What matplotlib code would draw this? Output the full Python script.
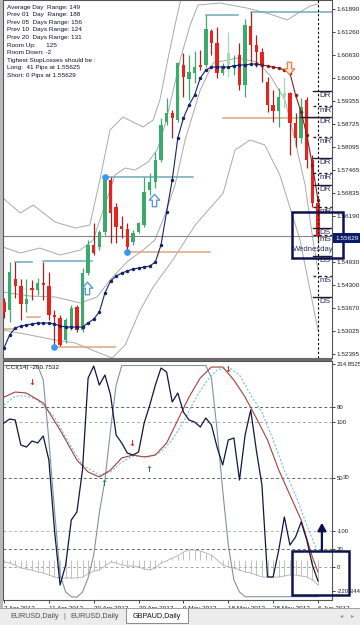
import numpy as np
import matplotlib.pyplot as plt
from matplotlib.path import Path
from matplotlib.patches import Rectangle

plt.rcParams['font.family'] = ['Liberation Sans', 'DejaVu Sans']

# ---- GBPAUD Daily, one bar per index, 2 Apr 2012 .. 6 Jun 2012 ----
opens = [1.53826, 1.53606, 1.54459, 1.54267, 1.53771, 1.54212, 1.54157, 1.54349, 1.54267, 1.53468,
         1.53386, 1.52781, 1.53138, 1.53688, 1.53056, 1.54624, 1.55395, 1.55340, 1.55753, 1.57184,
         1.56441, 1.55918, 1.55835, 1.55478, 1.55753, 1.55945, 1.56909, 1.57129, 1.57734, 1.58780,
         1.59028, 1.58835, 1.60349, 1.59963, 1.60128, 1.60349, 1.60349, 1.61284, 1.60954, 1.60128,
         1.60349, 1.60294, 1.60624, 1.59798, 1.61423, 1.60899, 1.60707, 1.59881, 1.59248, 1.59083,
         1.59468, 1.59578, 1.58752, 1.58340, 1.59386, 1.57734, 1.56551]
highs = [1.53937, 1.54927, 1.54927, 1.54459, 1.54459, 1.54432, 1.54487, 1.54927, 1.54652, 1.53606,
         1.53468, 1.53386, 1.53743, 1.53743, 1.54762, 1.55533, 1.56000, 1.55808, 1.57266, 1.57266,
         1.56551, 1.56193, 1.56000, 1.55808, 1.56028, 1.57266, 1.57376, 1.57955, 1.58891, 1.59441,
         1.59111, 1.60432, 1.60679, 1.60624, 1.60734, 1.60762, 1.61725, 1.61340, 1.61395, 1.60404,
         1.61257, 1.60624, 1.60954, 1.61615, 1.61808, 1.61174, 1.60817, 1.60018, 1.59661, 1.59716,
         1.60018, 1.59606, 1.59028, 1.59441, 1.59468, 1.57872, 1.56634]
lows = [1.53386, 1.53276, 1.53937, 1.53331, 1.53551, 1.53881, 1.54019, 1.53881, 1.53331, 1.52588,
        1.52615, 1.52698, 1.53056, 1.53001, 1.53001, 1.54569, 1.55119, 1.55257, 1.55670, 1.55450,
        1.55450, 1.55588, 1.55202, 1.55395, 1.55725, 1.55890, 1.56771, 1.56964, 1.57679, 1.58697,
        1.58340, 1.58780, 1.59468, 1.59386, 1.59853, 1.60211, 1.60294, 1.60624, 1.59991, 1.60073,
        1.60018, 1.60073, 1.59661, 1.59468, 1.60432, 1.60294, 1.59881, 1.59056, 1.58780, 1.58642,
        1.59166, 1.57872, 1.58092, 1.58202, 1.57514, 1.56441, 1.55450]
closes = [1.53551, 1.54652, 1.54267, 1.53771, 1.53909, 1.54157, 1.54349, 1.54294, 1.53468, 1.53413,
          1.52643, 1.53331, 1.53661, 1.53056, 1.54624, 1.55395, 1.55174, 1.55753, 1.57184, 1.56275,
          1.55890, 1.55835, 1.55340, 1.55725, 1.56000, 1.56854, 1.57129, 1.57734, 1.58697, 1.59028,
          1.58891, 1.60404, 1.60018, 1.60156, 1.60294, 1.60294, 1.61340, 1.60954, 1.60128, 1.60322,
          1.60679, 1.60349, 1.59798, 1.61450, 1.60899, 1.60707, 1.60349, 1.59248, 1.59083, 1.59468,
          1.59578, 1.58752, 1.58340, 1.59193, 1.57734, 1.56551, 1.55629]
faded_bars = [40, 50]

# dotted moving average
ma_line = [1.52561, 1.52918, 1.53111, 1.53166, 1.53193, 1.53221, 1.53248, 1.53248, 1.53248, 1.53221,
           1.53166, 1.53138, 1.53138, 1.53138, 1.53138, 1.53248, 1.53358, 1.53551, 1.54074, 1.54404,
           1.54542, 1.54624, 1.54679, 1.54734, 1.54762, 1.54789, 1.54817, 1.54927, 1.55395, 1.56303,
           1.57184, 1.58340, 1.58891, 1.59248, 1.59523, 1.59991, 1.60211, 1.60294, 1.60294, 1.60294,
           1.60294, 1.60322, 1.60349, 1.60349, 1.60377, 1.60377, 1.60349, 1.60322, 1.60294, 1.60266,
           1.60211, 1.60128, 1.59523, 1.59056, 1.58423, 1.57596, 1.56634]

# grey envelope bands (at a few bars)
band_a_x = [-0.2, 2.9, 5.2, 9.1, 12.7, 15.3, 17.1, 18.9, 21.2, 23.0, 24.8, 26.6, 27.8, 29.2, 30.5, 31.7]
band_a = [1.56689, 1.56276, 1.56496, 1.56028, 1.55863, 1.55945, 1.57184, 1.58560, 1.58918, 1.58780,
          1.58642, 1.58835, 1.59386, 1.60487, 1.61450, 1.62276]
band_b_x = [-0.2, 2.9, 6.4, 10.0, 13.6, 15.9, 18.0, 19.8, 21.6, 23.4, 25.7, 27.3, 28.7, 30.0, 31.4,
            33.2, 34.6, 38.5, 43.3, 47.4, 50.5, 52.8, 54.6, 56.0]
band_b = [1.55340, 1.55174, 1.55312, 1.55119, 1.55257, 1.55533, 1.56496, 1.57321, 1.57514, 1.57459,
          1.57679, 1.58010, 1.58697, 1.59523, 1.60487, 1.61450, 1.62000, 1.62055, 1.61918, 1.61753,
          1.61588, 1.61808, 1.61973, 1.62028]
band_c_x = [-0.2, 4.6, 9.1, 13.6, 16.6, 18.9, 21.9, 24.8, 26.9, 28.7, 30.5, 32.3, 35.0, 37.3, 41.6,
            45.1, 47.4, 50.1, 51.9, 53.7, 55.1, 56.0]
band_c = [1.54102, 1.53992, 1.53964, 1.53799, 1.53964, 1.54432, 1.54927, 1.55257, 1.55533, 1.56221,
          1.57046, 1.58285, 1.59661, 1.60404, 1.60542, 1.60432, 1.60074, 1.59386, 1.58285, 1.57046,
          1.55533, 1.54707]
band_d_x = [-0.2, 4.6, 9.1, 12.7, 16.6, 19.3, 21.6, 24.3, 26.6, 30.1, 34.1, 39.1, 41.2, 43.9, 46.5,
            49.2, 52.8, 56.0]
band_d = [1.53056, 1.52918, 1.52781, 1.52698, 1.52450, 1.52285, 1.52643, 1.53606, 1.54239, 1.54982,
          1.55945, 1.56826, 1.58010, 1.58285, 1.58148, 1.57321, 1.55533, 1.53056]

# weekly high / low lines: (first bar, last bar, price)
week_highs = [(2, 5, 1.54927), (7, 15.7, 1.54955), (18, 33.7, 1.57266), (36, 41.7, 1.61725), (44, 58.5, 1.61808)]
week_lows = [(-0.2, 2, 1.53083), (4.1, 6.4, 1.53413), (9, 19.8, 1.52588), (22, 36.7, 1.55202), (39, 56, 1.58891)]
swing_dots_x = [9, 18, 22]
swing_dots_y = [1.52588, 1.57266, 1.55202]
buy_arrows_x = [14.8, 26.8]
buy_arrows_y = [1.54212, 1.56634]
sell_arrow_x = [50.8]
sell_arrow_y = [1.60266]

# daily pivot levels drawn at the right edge
pivot_prices = [1.59633, 1.59221, 1.58918, 1.58368, 1.57789, 1.57376, 1.57046, 1.56441,
                1.55863, 1.55670, 1.55092, 1.54542, 1.53964]
pivot_names = ['DR', 'mR', 'DR', 'mR', 'DR', 'mR', 'DR', 'mR', 'DS', 'mS', 'DS', 'mS', 'DS']
pivot_start = [55.1, 55.1, 52.8, 55.1, 55.1, 55.1, 55.1, 55.1, 55.1, 55.1, 55.1, 55.1, 55.1]

last_price = 1.55629
price_ticks = [1.61890, 1.61260, 1.60630, 1.60000, 1.59355, 1.58725, 1.58095, 1.57465,
               1.56835, 1.56190, 1.54930, 1.54300, 1.53670, 1.53025, 1.52395]
price_labels = ['1.61890', '1.61260', '1.60630', '1.60000', '1.59355', '1.58725', '1.58095', '1.57465',
                '1.56835', '1.56190', '1.54930', '1.54300', '1.53670', '1.53025', '1.52395']

info_lines = ['Average Day  Range: 149', 'Prev 01  Day  Range: 188', 'Prev 05  Days Range: 156',
              'Prev 10  Days Range: 124', 'Prev 20  Days Range: 131', 'Room Up:      125',
              'Room Down: -2', 'Tighest StopLosses should be :', 'Long:  41 Pips at 1.55625',
              'Short: 0 Pips at 1.55629']

# ---- CCI sub window ----
cci = [101.8, 109.5, 107.6, 59.7, 55.8, 67.4, 63.5, 76.9, 31.0, -103.2, -208.5, -170.2, -84.0, -68.7,
       11.8, 188.0, 211.0, 174.6, 193.8, 155.5, 78.8, 63.5, 44.3, 40.5, 46.3, 101.8, 136.3, 174.6,
       207.2, 199.5, 142.1, 159.3, 122.9, 107.6, 103.7, 94.2, 111.4, 98.0, 55.8, 21.4, 69.3, 73.1,
       -7.4, 78.8, 126.7, 50.1, -16.9, -193.2, -193.2, -141.5, -78.2, -131.9, -116.6, -87.8, -122.3,
       -170.2, -200.75]
sig_x = [0, 2, 4, 7, 10, 13, 15, 17, 19, 21, 23, 25, 27, 29, 31, 33, 35, 37, 39, 41, 43, 45, 47, 49,
         51, 53, 55, 56]
sig_red = [151.6, 161.2, 159.3, 140.1, 88.4, 31.0, 8.0, -1.6, 11.8, 34.8, 40.5, 36.7, 40.5, 63.5,
           107.6, 151.6, 188.0, 209.1, 209.1, 184.2, 151.6, 111.4, 69.3, 11.8, -36.1, -84.0, -154.9, -183.6]
sig2_x = [0, 2, 4, 6, 9, 12, 14, 17, 19, 21, 23, 26, 28, 30, 32, 34, 36, 38, 40, 42, 44, 46, 48, 50,
          52, 54, 56]
sig_teal = [136.3, 153.5, 153.5, 145.9, 113.3, 55.8, 21.4, 2.2, 8.0, 27.1, 38.6, 36.7, 46.3, 69.3,
            103.7, 145.9, 180.4, 203.4, 209.1, 193.8, 155.5, 122.9, 69.3, 11.8, -36.1, -93.6, -147.2]
osc_x = [0, 6, 7, 8, 9, 10, 11, 12, 13, 14, 15, 16, 17, 18, 19, 20, 21, 35, 36, 37, 38, 39, 40, 41,
         42, 43, 56]
osc = [212, 212, 184.2, 69.3, -64.8, -189.4, -221.9, -231, -232, -221.9, -195.1, -151.0, -70.6, -7.4,
       88.4, 174.6, 212, 212, 212, 188.0, 88.4, -26.5, -131.9, -198.9, -221.9, -231, -231]
hist_base = -160.6
hist = [-164.5, -166.4, -170.2, -176.0, -177.9, -179.8, -183.6, -185.5, -189.4, -193.2, -195.1, -195.1,
        -195.1, -195.1, -193.2, -187.5, -181.7, -179.8, -172.1, -164.5, -166.4, -170.2, -172.1, -172.1,
        -174.0, -177.9, -179.8, -176.0, -166.4, -162.5, -156.8, -152.9, -145.3, -141.5, -141.5, -143.4,
        -147.2, -151.0, -160.6, -170.2, -174.0, -176.0, -179.8, -183.6, -185.5, -189.4, -193.2, -193.2,
        -193.2, -193.2, -191.3, -189.4, -189.4, -191.3, -193.2, -198.9, -208.5]
cci_levels = [132.5, 103.7, -3.5, -105.1, -139.5, -174.0]
cci_level_cols = ['#56687a', '#a8a8a8', '#56687a', '#b4b4b4', '#6a6a6a', '#a8a8a8']
cci_level_labels = [(132.5, '80'), (103.7, '100'), (-3.5, '50'), (-105.1, '-100'), (-139.5, '20'),
                    (-174.0, '0'), (-220.0, '-220.344')]
cci_top, cci_bottom = 214.8525, -237.3
down_marks_x = [5.0, 22.8, 40.0]
down_marks_y = [178.5, 63.5, 205.3]
up_marks_x = [17.8, 25.9]
up_marks_y = [-15.0, 11.8]

date_ticks = [0, 8, 16, 24, 32, 40, 48, 56]
date_labels = ['2 Apr 2012', '11 Apr 2012', '20 Apr 2012', '30 Apr 2012', '9 May 2012',
               '18 May 2012', '28 May 2012', '6 Jun 2012']

W, H = 360, 625
NAVY = '#10124e'


def box(x0, y0, x1, y1):
    return [x0 / W, 1 - y1 / H, (x1 - x0) / W, (y1 - y0) / H]


fig = plt.figure(figsize=(3.6, 6.25), dpi=100)
fig.patch.set_facecolor('white')
ax = fig.add_axes(box(3, 0, 332, 358))
ax2 = fig.add_axes(box(3, 361, 332, 600))
xlim = (-0.18, 58.5)

# ---------- price window ----------
ax.set_xlim(*xlim)
ax.set_ylim(1.52285, 1.62138)
idx = np.arange(len(opens))
o, h, l, c = (np.array(v) for v in (opens, highs, lows, closes))
up = c >= o
body = np.where(up, '#3aab6d', '#e8231d').astype(object)
wick = np.where(up, '#3aab6d', '#a8201c').astype(object)
for b in faded_bars:
    body[b] = '#a6d9b8'
    wick[b] = '#a6d9b8'

for xs, ys in [(band_a_x, band_a), (band_b_x, band_b), (band_c_x, band_c), (band_d_x, band_d)]:
    ax.plot(xs, ys, color='#a9a9a9', lw=0.7, zorder=1)

ax.axhline(last_price, color='#858585', lw=0.8, zorder=1)
for x0, x1, p in week_highs:
    ax.plot([x0, x1], [p, p], color='#6fa9bd', lw=1.1, zorder=2)
for x0, x1, p in week_lows:
    ax.plot([x0, x1], [p, p], color='#dba580', lw=1.1, zorder=2)

ax.vlines(idx, l, h, colors=list(wick), lw=0.9, zorder=3)
ax.bar(idx, np.maximum(np.abs(c - o), 0.00009), bottom=np.minimum(o, c), width=0.6,
       color=list(body), lw=0, zorder=4)

ax.plot(idx[:47], ma_line[:47], color='#16246a', lw=0.8, marker='o', ms=1.5, zorder=5)
ax.plot(idx[46:], ma_line[46:], color='#8a1c24', lw=0.8, marker='o', ms=1.5, zorder=5)
ax.plot(swing_dots_x, swing_dots_y, 'o', color='#3b96f0', ms=3.8, zorder=6)

arrow = Path([(0, 1), (0.85, 0.05), (0.35, 0.05), (0.35, -1), (-0.35, -1), (-0.35, 0.05),
              (-0.85, 0.05), (0, 1)], closed=True)
arrow_dn = Path(arrow.vertices * [1, -1], closed=True)
ax.plot(buy_arrows_x, buy_arrows_y, ls='none', marker=arrow, ms=9, mfc='white', mec='#4a94d6', mew=0.9, zorder=6)
ax.plot(sell_arrow_x, sell_arrow_y, ls='none', marker=arrow_dn, ms=9, mfc='#fbe9dc', mec='#e0834c', mew=0.9, zorder=6)

ax.axvline(56, color='black', lw=0.8, ls=(0, (2, 2)), zorder=6)
for p, name, x0 in zip(pivot_prices, pivot_names, pivot_start):
    ls = '-' if name[0] == 'D' else (0, (2, 2))
    ax.plot([x0, xlim[1]], [p, p], color='#1a1a3a', lw=1.0, ls=ls, zorder=7)
    t = ax.text(56.3, p - 0.0003, name, fontsize=5.8, color='#2a2a50', va='top', ha='left', zorder=7)
    t.set_clip_on(True)
wd = ax.text(51.6, 1.55260, 'Wednesday', fontsize=5.5, color='#303060', va='center', ha='left', zorder=8)
wd.set_clip_on(True)

for i, line in enumerate(info_lines):
    ax.text(0.012, 0.987 - i * 0.0212, line, transform=ax.transAxes, fontsize=4.6,
            color='#101030', va='top', ha='left')

ax.yaxis.tick_right()
ax.set_yticks(price_ticks)
ax.set_yticklabels(price_labels)
ax.tick_params(axis='y', length=2, width=0.6, pad=1.5, labelsize=4.6, colors='#202020')
ax.set_xticks([])
for s in ax.spines.values():
    s.set_color('#555555')
    s.set_linewidth(0.8)

# ---------- CCI window ----------
ax2.set_xlim(*xlim)
ax2.set_ylim(cci_bottom, cci_top + 5.8)
for lv, col in zip(cci_levels, cci_level_cols):
    ax2.axhline(lv, color=col, lw=0.7, ls=(0, (3, 2.5)), zorder=1)
ax2.vlines(idx, hist_base, hist, colors='#b5b5b5', lw=0.6, zorder=2)
ax2.plot(idx, hist, color='#b0b0b0', lw=0.6, zorder=2)
ax2.plot(osc_x, osc, color='#7f93a3', lw=0.8, zorder=3)
ax2.plot(sig2_x, sig_teal, color='#78c0d8', lw=0.8, ls=(0, (2, 1.5)), zorder=3)
ax2.plot(sig_x, sig_red, color='#a3413a', lw=0.8, zorder=4)
ax2.plot(idx, cci, color='#11163f', lw=0.9, zorder=5)
for x, y in zip(down_marks_x, down_marks_y):
    ax2.text(x, y, '\u2193', color='#e02424', fontsize=6, fontweight='bold', ha='center', va='center',
             family=['DejaVu Sans'])
for x, y in zip(up_marks_x, up_marks_y):
    ax2.text(x, y, '\u2191', color='#21834a', fontsize=6, fontweight='bold', ha='center', va='center',
             family=['DejaVu Sans'])
ax2.annotate('', xy=(56.7, -84.0), xytext=(56.7, -147.0),
             arrowprops=dict(arrowstyle='-|>,head_width=0.25,head_length=0.45', color=NAVY, lw=1.6))
ax2.text(0.01, 0.985, 'CCI(14) -200.7532', transform=ax2.transAxes, fontsize=4.6, va='top', ha='left',
         color='#101010')

ax2.yaxis.tick_right()
ax2.set_yticks([v for v, _ in cci_level_labels] + [cci_top])
ax2.set_yticklabels([t for _, t in cci_level_labels] + ['214.8525'])
ax2.tick_params(axis='y', length=2, width=0.6, pad=1.2, labelsize=4.3, colors='#202020')
# second level label sharing the 50 line
ax2.text(1.0 + 10.5 / 329, -3.5, '30', transform=ax2.get_yaxis_transform(), fontsize=4.3,
         va='center', ha='left', color='#202020', clip_on=False)
ax2.set_xticks(date_ticks)
ax2.set_xticklabels(date_labels)
ax2.tick_params(axis='x', length=2.5, width=0.6, pad=1.5, labelsize=4.6, colors='#202020')
for lab in ax2.get_xticklabels():
    lab.set_ha('left')
for s in ax2.spines.values():
    s.set_color('#555555')
    s.set_linewidth(0.8)

# ---------- terminal chrome (pixel coords) ----------
ov = fig.add_axes([0, 0, 1, 1], zorder=10)
ov.set_xlim(0, W)
ov.set_ylim(H, 0)
ov.axis('off')
ov.add_patch(Rectangle((0, 0), 2.5, 608, color='#b9b9b9', lw=0))
ov.add_patch(Rectangle((3, 358), 329, 3, color='#6b6b6b', lw=0))
ov.add_patch(Rectangle((292, 212), 51, 46, fill=False, ec=NAVY, lw=1.8))
ov.add_patch(Rectangle((292, 551), 57, 44, fill=False, ec=NAVY, lw=1.8))
ov.add_patch(Rectangle((333, 233), 27, 10, color='#0b1a6a', lw=0))
ov.text(335, 238.3, '1.55629', fontsize=4.6, color='white', va='center', ha='left')
ov.add_patch(Rectangle((0, 608), W, 17, color='#ececec', lw=0))
ov.plot([0, W], [608, 608], color='#a0a0a0', lw=0.7)
ov.add_patch(Rectangle((126, 608), 62, 15, facecolor='white', edgecolor='#8a8a8a', lw=0.7))
ov.text(10, 616, 'EURUSD,Daily', fontsize=5.2, color='#505050', va='center')
ov.text(63, 616, '|', fontsize=5.2, color='#707070', va='center')
ov.text(70, 616, 'EURUSD,Daily', fontsize=5.2, color='#505050', va='center')
ov.text(133, 616, 'GBPAUD,Daily', fontsize=5.2, color='#101010', va='center')
ov.text(340, 616, '\u25c2', fontsize=4.5, color='#909090', va='center', family=['DejaVu Sans'])
ov.text(351, 616, '\u25b8', fontsize=4.5, color='#909090', va='center', family=['DejaVu Sans'])

fig.savefig('out.png', dpi=100)
